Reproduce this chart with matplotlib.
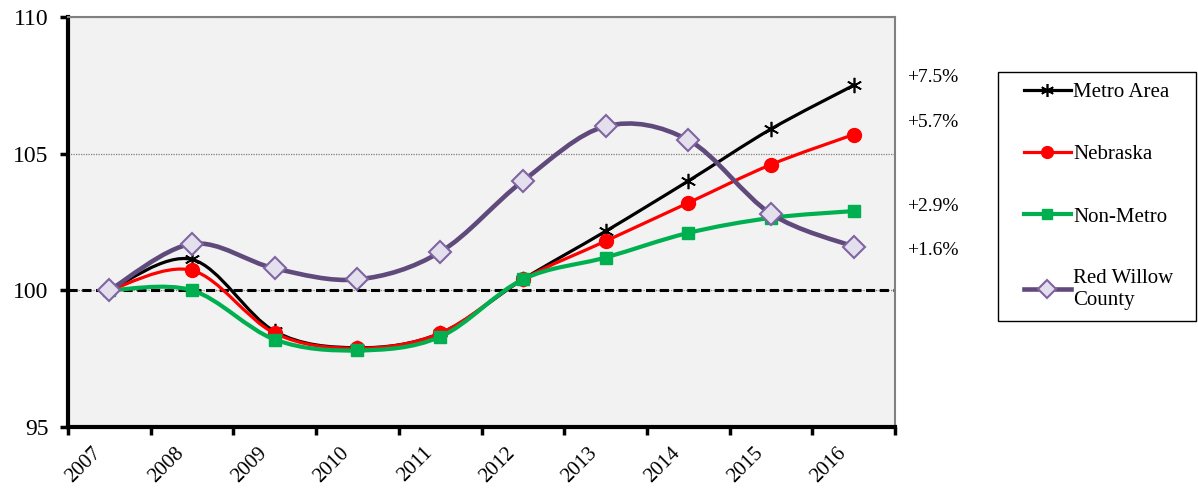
import matplotlib
matplotlib.use("Agg")
import matplotlib.pyplot as plt
import matplotlib.transforms as mtransforms
from matplotlib.path import Path
from matplotlib.patches import PathPatch
from matplotlib.lines import Line2D
from matplotlib.legend_handler import HandlerLine2D
import numpy as np

plt.rcParams['font.family'] = ['Liberation Serif', 'DejaVu Serif']

# datos
years = ['2007', '2008', '2009', '2010', '2011', '2012', '2013', '2014', '2015', '2016']
metro = [100, 101.13, 98.5, 97.9, 98.43, 100.4, 102.16, 104.0, 105.9, 107.5]
nebraska = [100, 100.73, 98.43, 97.88, 98.43, 100.4, 101.8, 103.2, 104.6, 105.7]
non_metro = [100, 100.0, 98.2, 97.8, 98.3, 100.4, 101.2, 102.1, 102.65, 102.9]
red_willow = [100, 101.7, 100.8, 100.4, 101.4, 104.0, 106.0, 105.5, 102.8, 101.6]
series_names = ['Metro Area', 'Nebraska', 'Non-Metro', 'Red Willow\nCounty']
changes = ['+7.5%', '+5.7%', '+2.9%', '+1.6%']
change_pos = [107.8, 106.15, 103.05, 101.45]


def smooth_path(xs, ys):
    # curva suavizada tipo Excel (Bezier cubica, Catmull-Rom)
    pts = np.column_stack([xs, ys]).astype(float)
    n = len(pts)
    verts = [pts[0]]
    codes = [Path.MOVETO]
    for i in range(n - 1):
        p0 = pts[i - 1] if i > 0 else pts[i]
        p1 = pts[i]
        p2 = pts[i + 1]
        p3 = pts[i + 2] if i + 2 < n else pts[i + 1]
        c1 = p1 + (p2 - p0) / 6.0
        c2 = p2 - (p3 - p1) / 6.0
        verts += [c1, c2, p2]
        codes += [Path.CURVE4] * 3
    return Path(verts, codes)


fig = plt.figure(figsize=(11.98, 4.9), dpi=100)
ax = fig.add_axes([68 / 1198, 1 - 427 / 490, 827 / 1198, 410 / 490])
ax.set_facecolor('#f2f2f2')

x = np.arange(len(years))
estilos = [
    dict(color='black', lw=2.3, marker=(6, 2, 0), ms=11, mfc='black', mec='black', mew=1.2),
    dict(color='#ff0000', lw=2.3, marker='o', ms=10, mfc='#ff0000', mec='#ff0000', mew=1),
    dict(color='#00b050', lw=3.0, marker='s', ms=8, mfc='#00b050', mec='#00b050', mew=1),
    dict(color='#604a7b', lw=3.3, marker='D', ms=11, mfc='#e4dfec', mec='#8064a2', mew=1.5),
]
datos = [metro, nebraska, non_metro, red_willow]

ax.axhline(100, color='black', lw=2.2, ls=(0, (3, 1.5)), zorder=2)

handles = []
for k, (vals, st) in enumerate(zip(datos, estilos)):
    patch = PathPatch(smooth_path(x, vals), facecolor='none', edgecolor=st['color'],
                      lw=st['lw'], zorder=3 + k, capstyle='round', joinstyle='round')
    ax.add_patch(patch)
    ax.plot(x, vals, ls='none', marker=st['marker'], ms=st['ms'], mfc=st['mfc'],
            mec=st['mec'], mew=st['mew'], zorder=3 + k)
    handles.append(Line2D([], [], color=st['color'], lw=st['lw'], marker=st['marker'],
                          ms=st['ms'] * 0.85, mfc=st['mfc'], mec=st['mec'], mew=st['mew']))

ax.set_xlim(-0.5, len(years) - 0.5)
ax.set_ylim(95, 110)
ax.set_yticks([95, 100, 105, 110])
ax.yaxis.grid(True, color='#808080', lw=0.9, ls=(0, (1, 1)))
ax.set_axisbelow(True)

# ticks entre categorias, etiquetas en el centro
ax.set_xticks(np.arange(-0.5, len(years), 1.0))
ax.set_xticklabels([])
ax.set_xticks(x, minor=True)
ax.set_xticklabels(years, minor=True, rotation=45, ha='right', fontsize=15)
ax.tick_params(axis='x', which='major', direction='out', length=6, width=2.5, color='black')
ax.tick_params(axis='x', which='minor', length=0, pad=12)
ax.tick_params(axis='y', direction='out', length=6, width=2.5, labelsize=17, pad=8)
offset = mtransforms.ScaledTranslation(-4 / 100, 0, fig.dpi_scale_trans)
for lab in ax.xaxis.get_minorticklabels():
    lab.set_transform(lab.get_transform() + offset)

for side in ['left', 'bottom']:
    ax.spines[side].set_linewidth(3)
    ax.spines[side].set_color('black')
for side in ['top', 'right']:
    ax.spines[side].set_linewidth(1.5)
    ax.spines[side].set_color('#808080')

trans = mtransforms.blended_transform_factory(ax.transAxes, ax.transData)
for txt, yy in zip(changes, change_pos):
    ax.text(1.0145, yy, txt, transform=trans, fontsize=14, va='center', ha='left', clip_on=False)

leg_top = 1 - 72 / 490
leg = ax.legend(handles, series_names, loc='upper left',
                bbox_to_anchor=(998 / 1198, leg_top - 0.1, 198 / 1198, 0.1),
                bbox_transform=fig.transFigure, mode='expand', fontsize=15,
                frameon=True, fancybox=False, edgecolor='black', framealpha=1,
                borderpad=0.5, labelspacing=2.05, handlelength=3.0, handletextpad=0.1,
                borderaxespad=0,
                handler_map={Line2D: HandlerLine2D(xpad=0.75)})
leg.get_frame().set_linewidth(1)

fig.savefig('out.png', dpi=100)
